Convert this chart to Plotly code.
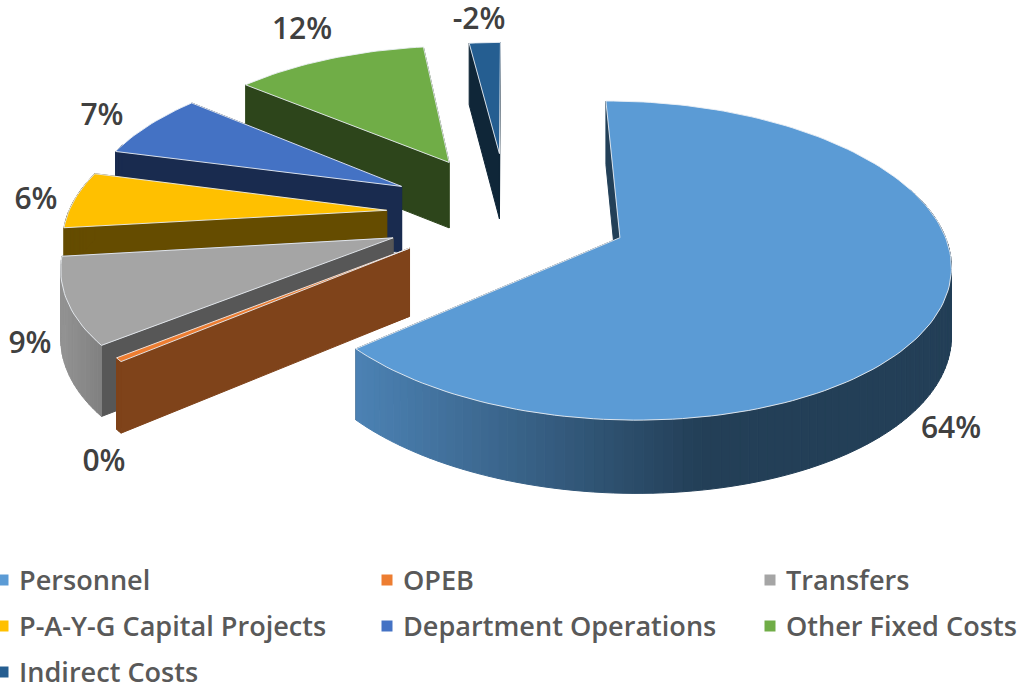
import math
import plotly.graph_objects as go

categories = ["Personnel", "OPEB", "Transfers", "P-A-Y-G Capital Projects",
              "Department Operations", "Other Fixed Costs", "Indirect Costs"]
values = [64.49, 0.4, 9, 6, 7, 12, -2]
tick_labels = [f"{round(v)}%" for v in values]

top_colors = ["#5B9BD5", "#ED7D31", "#A5A5A5", "#FFC000", "#4472C4", "#70AD47", "#255E91"]
side_colors = ["#234058", "#7F431A", "#575757", "#654C00", "#192B4F", "#2D451B", "#0F2638"]
wall_from = [(76, 130, 180), (127, 67, 26), (146, 146, 146), (101, 76, 0), (25, 43, 79), (45, 69, 27), (15, 38, 56)]
wall_to = [(35, 63, 87), (127, 67, 26), (124, 124, 124), (101, 76, 0), (25, 43, 79), (45, 69, 27), (15, 38, 56)]
wall_span = [(355, 700), (100, 130), (65, 110), (60, 110), (100, 200), (200, 400), (460, 500)]

# projection and layout constants
W, H = 1018, 685
CX, CY, R, A, P, DEPTH = 520, 212, 318, 149, 0.14, 67
START_DEG = -0.3
explode = [0.35, 0.41, 0.425, 0.42, 0.42, 0.42, 0.42]
explode_turn = [4.0, 4.5, -0.8, -2.5, -2.5, -5.0, -5.5]
radius = [1, 1, 1, 1, 1, 0.97, 0.94]
draw_order = [6, 5, 4, 3, 2, 1, 0]
label_pos = [(951, 430), (104, 463), (30, 345), (36, 201), (102, 117), (302, 31), (479, 21)]
legend_pos = [(3, 583), (387, 583), (770, 583), (3, 629), (387, 629), (770, 629), (3, 675)]


def project(X, Z, drop=0.0):
    s = 1.0 / (1.0 + P * Z)
    return CX + R * X * s, CY - A * Z * s + drop * s ** 0.5


total = sum(abs(v) for v in values)
spans = []
cur = START_DEG
for v in values:
    d = abs(v) / total * 360
    spans.append((cur, cur + d))
    cur += d

fig = go.Figure()


def poly(xs, ys, fill, line=None, width=1):
    fig.add_trace(go.Scatter(
        x=list(xs) + [xs[0]], y=list(ys) + [ys[0]], mode="lines", fill="toself",
        fillcolor=fill, line=dict(color=line or fill, width=width),
        hoverinfo="skip", showlegend=False))


def lerp_color(i, x):
    a, b = wall_span[i]
    t = min(1, max(0, (x - a) / (b - a)))
    c = [round(p + (q - p) * t) for p, q in zip(wall_from[i], wall_to[i])]
    return f"rgb({c[0]},{c[1]},{c[2]})"


for i in draw_order:
    a0, a1 = spans[i]
    mid = math.radians((a0 + a1) / 2 + explode_turn[i])
    ax, az = explode[i] * math.sin(mid), explode[i] * math.cos(mid)
    n = max(2, int((a1 - a0) / 1.5) + 1)
    rim = [math.radians(a0 + (a1 - a0) * k / n) for k in range(n + 1)]
    pts = [(ax + radius[i] * math.sin(t), az + radius[i] * math.cos(t)) for t in rim]
    # radial walls
    for (px, pz) in (pts[-1], pts[0]):
        c1 = project(ax, az)
        c2 = project(px, pz)
        c3 = project(px, pz, DEPTH)
        c4 = project(ax, az, DEPTH)
        poly([c1[0], c2[0], c3[0], c4[0]], [c1[1], c2[1], c3[1], c4[1]], side_colors[i])
    # outer wall in strips
    for k in range(n):
        if math.cos(rim[k]) > 0.3 and math.cos(rim[k + 1]) > 0.3:
            continue
        p1, p2 = project(*pts[k]), project(*pts[k + 1])
        p3, p4 = project(*pts[k + 1], DEPTH), project(*pts[k], DEPTH)
        col = lerp_color(i, (p1[0] + p2[0]) / 2)
        poly([p1[0], p2[0], p3[0], p4[0]], [p1[1], p2[1], p3[1], p4[1]], col)
    # top face
    outline = [project(ax, az)] + [project(*q) for q in pts]
    poly([q[0] for q in outline], [q[1] for q in outline], top_colors[i],
         line="rgba(235,240,245,0.9)", width=1)

fig.add_trace(go.Scatter(
    x=[q[0] for q in label_pos], y=[q[1] for q in label_pos], mode="text", text=tick_labels,
    textposition="middle center",
    textfont=dict(family="Open Sans", size=30, color="#404040", weight=600),
    hoverinfo="skip", showlegend=False))

for q, name, col in zip(legend_pos, categories, top_colors):
    fig.add_trace(go.Scatter(
        x=[q[0]], y=[q[1] - 3], mode="markers",
        marker=dict(symbol="square", size=11, color=col),
        hoverinfo="skip", showlegend=False))
    fig.add_trace(go.Scatter(
        x=[q[0] + 16], y=[q[1]], mode="text", text=[name], textposition="middle right",
        textfont=dict(family="Open Sans", size=27.1, color="#595959", weight=600),
        hoverinfo="skip", showlegend=False))

fig.update_layout(
    width=W, height=H, margin=dict(l=0, r=0, t=0, b=0),
    paper_bgcolor="white", plot_bgcolor="white", showlegend=False,
    xaxis=dict(range=[0, W], visible=False, fixedrange=True),
    yaxis=dict(range=[H, 0], visible=False, fixedrange=True),
)
fig.write_html("out.html", config={"displayModeBar": False},
               post_script="document.body.style.margin='0';document.body.style.overflow='hidden';")
